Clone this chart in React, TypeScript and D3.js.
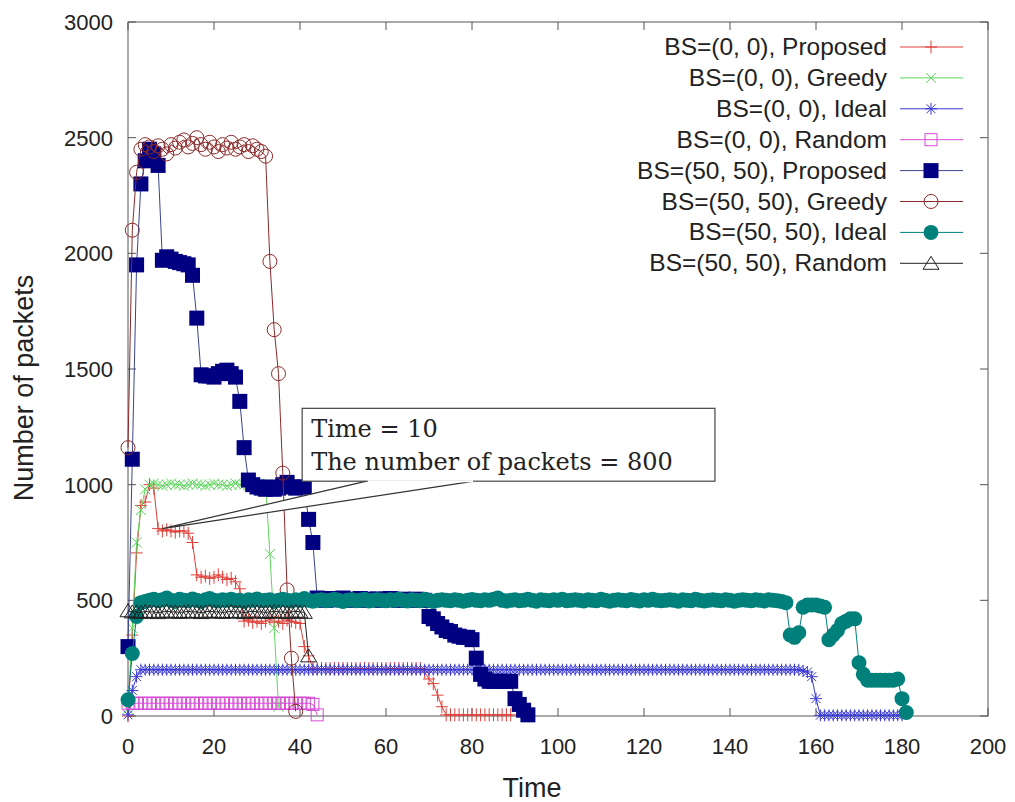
import React, { useRef, useEffect } from "react";
import * as d3 from "d3";

// axis ticks
const xTicks = [0, 20, 40, 60, 80, 100, 120, 140, 160, 180, 200];
const yTicks = [0, 500, 1000, 1500, 2000, 2500, 3000];

const seriesNames = [
  "BS=(0, 0), Proposed",
  "BS=(0, 0), Greedy",
  "BS=(0, 0), Ideal",
  "BS=(0, 0), Random",
  "BS=(50, 50), Proposed",
  "BS=(50, 50), Greedy",
  "BS=(50, 50), Ideal",
  "BS=(50, 50), Random",
];

// values per time step, starting at Time = 0
const proposed00 = [
  0, 350, 705, 910, 925, 1000, 985, 810, 800, 805, 800, 795, 800, 800, 790, 750,
  610, 600, 605, 595, 600, 610, 600, 590, 595, 580, 550,
  410, 415, 405, 410, 400, 410, 420, 405, 410, 400, 415, 410, 405, 400, 300, 260,
  205, 205, 205, 205, 205, 205, 205, 205, 205, 205, 205, 205, 205,
  205, 205, 205, 205, 205, 205, 205, 205, 205, 205, 205, 205, 205,
  190, 160, 140, 90, 40,
  5, 5, 5, 5, 5, 5, 5, 5, 5, 5, 5, 5, 5, 5, 5, 5,
];

const greedy00 = [
  30, 380, 750, 890, 980,
  1000, 1005, 1000, 995, 1000, 1005, 1000, 1000, 995, 1000, 1005, 1000, 1000, 995,
  1000, 1005, 1000, 1000, 995, 1000, 1005, 1000, 1000, 995, 1000, 1005, 1000, 1000,
  700, 380, 40,
];

const ideal00 = [
  5, 110, 170, 200,
  200, 200, 200, 200, 200, 200, 200, 200, 200, 200, 200, 200, 200, 200, 200, 200, 200, 200, 200, 200,
  200, 200, 200, 200, 200, 200, 200, 200, 200, 200, 200, 200, 200, 200, 200, 200, 200, 200, 200, 200,
  200, 200, 200, 200, 200, 200, 200, 200, 200, 200, 200, 200, 200, 200, 200, 200, 200, 200, 200, 200,
  200, 200, 200, 200, 200, 200, 200, 200, 200, 200, 200, 200, 200, 200, 200, 200, 200, 200, 200, 200,
  200, 200, 200, 200, 200, 200, 200, 200, 200, 200, 200, 200, 200, 200, 200, 200, 200, 200, 200, 200,
  200, 200, 200, 200, 200, 200, 200, 200, 200, 200, 200, 200, 200, 200, 200, 200, 200, 200, 200, 200,
  200, 200, 200, 200, 200, 200, 200, 200, 200, 200, 200, 200, 200, 200, 200, 200, 200, 200, 200, 200,
  200, 200, 200, 200, 200, 200, 200, 200, 200, 200, 200, 200, 200,
  195, 190, 170, 75,
  3, 3, 3, 3, 3, 3, 3, 3, 3, 3, 3, 3, 3, 3, 3, 3, 3, 3, 3, 3,
];

const random00 = [
  55, 55, 55, 55, 55, 55, 55, 55, 55, 55, 55, 55, 55, 55, 55, 55, 55, 55, 55, 55,
  55, 55, 55, 55, 55, 55, 55, 55, 55, 55, 55, 55, 55, 55, 55, 55, 55, 55, 55, 55,
  55, 55, 55, 50, 5,
];

const proposed50 = [
  300, 1110, 1950, 2300, 2400, 2450, 2430, 2380,
  1970, 1985, 1975, 1965, 1960, 1955, 1950, 1905, 1720,
  1475, 1470, 1470, 1465, 1480, 1490, 1495, 1480, 1465, 1360, 1160,
  1020, 1000, 990, 985, 980, 990, 980, 985, 1000, 1010, 990, 985, 990, 990, 850, 750,
  510, 505, 500, 508, 502, 505, 510, 500, 505, 503, 508, 500, 505, 502, 506, 500,
  505, 508, 502, 500, 505, 503, 500, 505, 502, 500,
  430, 420, 400, 385, 370, 365, 350, 345, 340, 340, 330, 250, 180, 160,
  150, 150, 150, 150, 150, 150, 75, 50, 25, 5,
];

const greedy50 = [
  1160, 2100, 2350,
  2450, 2470, 2460, 2440, 2465, 2450, 2430, 2470, 2455, 2480, 2490, 2460, 2475, 2500, 2470,
  2450, 2480, 2460, 2440, 2470, 2455, 2480, 2450, 2460, 2470, 2440, 2465, 2450, 2440,
  2420, 1965, 1670, 1480, 1050, 545, 250, 20,
];

const ideal50 = [
  70, 270, 430, 490,
  495, 500, 505, 498, 502, 510, 500, 495, 505, 500, 498, 506, 500, 495, 502, 508, 500, 497, 503, 500,
  505, 498, 500, 495, 502, 500, 506, 498, 500, 503, 495, 500, 505, 500, 497, 502, 500, 508, 500, 496,
  500, 503, 498, 500, 505, 500, 495, 500, 502, 498, 500, 505, 497, 500, 503, 500, 498, 502, 500, 506,
  500, 497, 502, 500, 498, 505, 500, 495, 500, 503, 500, 498, 502, 500, 496, 500, 504, 500, 498, 502,
  500, 505, 510, 500, 497, 500, 503, 498, 500, 505, 500, 496, 502, 500, 498, 503, 500, 505, 498, 500,
  502, 500, 497, 503, 500, 498, 505, 500, 496, 500, 502, 500, 498, 504, 500, 497, 502, 500, 505, 500,
  498, 500, 503, 500, 496, 502, 500, 498, 505, 500, 497, 500, 503, 500, 498, 502, 500, 496, 500, 503,
  500, 498, 502, 500, 497, 503, 500, 498, 495,
  490, 350, 340, 360, 470, 480, 480, 480, 475, 470, 330, 350, 370, 400, 410, 420, 420,
  230, 180, 155, 155, 155, 155, 155, 155, 155, 160, 75, 15,
];

const random50 = [
  455, 450, 450, 448, 452, 450, 450,
  447, 450, 453, 450, 450, 448, 450,
  452, 450, 450, 447, 450, 453, 450,
  450, 448, 450, 452, 450, 450, 447,
  450, 453, 450, 450, 448, 450, 452,
  450, 450, 447, 450, 453, 450, 448,
  260,
];

const seriesValues = [proposed00, greedy00, ideal00, random00, proposed50, greedy50, ideal50, random50];

const seriesStyles = [
  { color: "#e0403a", line: "#e0403a", marker: "plus" },
  { color: "#5cd85c", line: "#5cd85c", marker: "cross" },
  { color: "#3b3bd6", line: "#3b3bd6", marker: "star" },
  { color: "#d84ad8", line: "#d84ad8", marker: "square" },
  { color: "#000080", line: "#3a448e", marker: "squareFilled" },
  { color: "#8c2a2a", line: "#8c2a2a", marker: "circle" },
  { color: "#00807a", line: "#00807a", marker: "circleFilled" },
  { color: "#222222", line: "#222222", marker: "triangle" },
];

// callout annotation (data units)
const calloutText = ["Time = 10", "The number of packets = 800"];
const calloutTip = { t: 8, v: 810 };
const calloutBox = { t0: 40.5, t1: 136.5, v0: 1015, v1: 1330 };
const calloutBase = [55.5, 80.5];

const W = 1015;
const H = 802;
const font = "'Liberation Sans', Arial, sans-serif";

function drawMarker(g: any, kind: string, cx: number, cy: number, color: string) {
  const t = `translate(${cx},${cy})`;
  if (kind === "plus") {
    g.append("path").attr("d", "M-6,0H6M0,-6.5V6.5").attr("transform", t)
      .attr("stroke", color).attr("fill", "none");
  } else if (kind === "cross") {
    g.append("path").attr("d", "M-5,-5L5,5M-5,5L5,-5").attr("transform", t)
      .attr("stroke", color).attr("fill", "none");
  } else if (kind === "star") {
    g.append("path").attr("d", "M-6,0H6M0,-6V6M-4.5,-4.5L4.5,4.5M-4.5,4.5L4.5,-4.5").attr("transform", t)
      .attr("stroke", color).attr("fill", "none");
  } else if (kind === "square") {
    g.append("rect").attr("x", cx - 6).attr("y", cy - 6).attr("width", 12).attr("height", 12)
      .attr("stroke", color).attr("fill", "none");
  } else if (kind === "squareFilled") {
    g.append("rect").attr("x", cx - 7.5).attr("y", cy - 7.5).attr("width", 15).attr("height", 15)
      .attr("fill", color);
  } else if (kind === "circle") {
    g.append("circle").attr("cx", cx).attr("cy", cy).attr("r", 7)
      .attr("stroke", color).attr("fill", "none");
  } else if (kind === "circleFilled") {
    g.append("circle").attr("cx", cx).attr("cy", cy).attr("r", 7.5).attr("fill", color);
  } else if (kind === "triangle") {
    g.append("path").attr("d", "M0,-7L8,6H-8Z").attr("transform", t)
      .attr("stroke", color).attr("fill", "none");
  }
}

const PacketsChart = () => {
  const ref = useRef<SVGSVGElement>(null);

  useEffect(() => {
    const svg = d3.select(ref.current);
    svg.selectAll("*").remove();

    const x = d3.scaleLinear().domain([0, 200]).range([128, 988]);
    const y = d3.scaleLinear().domain([0, 3000]).range([716, 22]);

    svg.append("rect").attr("width", W).attr("height", H).attr("fill", "#fff");

    // frame + ticks
    const axisColor = "#555";
    svg.append("rect")
      .attr("x", x(0)).attr("y", y(3000))
      .attr("width", x(200) - x(0)).attr("height", y(0) - y(3000))
      .attr("fill", "none").attr("stroke", axisColor);

    const ticks = svg.append("g").attr("stroke", axisColor);
    xTicks.forEach((t) => {
      ticks.append("line").attr("x1", x(t)).attr("x2", x(t)).attr("y1", y(0)).attr("y2", y(0) - 8);
      ticks.append("line").attr("x1", x(t)).attr("x2", x(t)).attr("y1", y(3000)).attr("y2", y(3000) + 8);
    });
    yTicks.forEach((v) => {
      ticks.append("line").attr("x1", x(0)).attr("x2", x(0) + 8).attr("y1", y(v)).attr("y2", y(v));
      ticks.append("line").attr("x1", x(200)).attr("x2", x(200) - 8).attr("y1", y(v)).attr("y2", y(v));
    });

    const labels = svg.append("g").style("font-family", font).attr("fill", "#222");
    xTicks.forEach((t) => {
      labels.append("text").attr("x", x(t)).attr("y", y(0) + 38)
        .attr("text-anchor", "middle").style("font-size", "22px").text(t);
    });
    yTicks.forEach((v) => {
      labels.append("text").attr("x", x(0) - 15).attr("y", y(v) + 8)
        .attr("text-anchor", "end").style("font-size", "22px").text(v);
    });
    labels.append("text").attr("x", 532).attr("y", 797)
      .attr("text-anchor", "middle").style("font-size", "27px").text("Time");
    labels.append("text").attr("transform", "translate(33,388) rotate(-90)")
      .attr("text-anchor", "middle").style("font-size", "27px").text("Number of packets");

    // series, drawn in legend order
    const line = d3.line<number>().x((_, i) => x(i)).y((d) => y(d));
    seriesValues.forEach((vals, k) => {
      const st = seriesStyles[k];
      const g = svg.append("g").attr("stroke-width", 1);
      g.append("path").datum(vals).attr("d", line)
        .attr("fill", "none").attr("stroke", st.line).attr("stroke-width", 1);
      vals.forEach((v, i) => drawMarker(g, st.marker, x(i), y(v), st.color));
    });

    // legend
    const legend = svg.append("g").style("font-family", font);
    seriesNames.forEach((name, k) => {
      const st = seriesStyles[k];
      const ly = 47 + k * 30.9;
      legend.append("text").attr("x", 887).attr("y", ly + 8).attr("text-anchor", "end")
        .style("font-size", "24.5px").attr("fill", "#222").text(name);
      legend.append("line").attr("x1", 900).attr("x2", 963).attr("y1", ly).attr("y2", ly)
        .attr("stroke", st.line);
      drawMarker(legend, st.marker, 931, ly, st.color);
    });

    // callout
    const c = svg.append("g");
    c.append("path")
      .attr("d", `M${x(calloutBase[0])},${y(calloutBox.v0)}L${x(calloutTip.t)},${y(calloutTip.v)}L${x(calloutBase[1])},${y(calloutBox.v0)}Z`)
      .attr("fill", "#fff").attr("stroke", "#333").attr("stroke-width", 1.2);
    c.append("rect")
      .attr("x", x(calloutBox.t0)).attr("y", y(calloutBox.v1))
      .attr("width", x(calloutBox.t1) - x(calloutBox.t0))
      .attr("height", y(calloutBox.v0) - y(calloutBox.v1))
      .attr("fill", "#fff").attr("stroke", "#444").attr("stroke-width", 1.2);
    c.append("path")
      .attr("d", `M${x(calloutBase[0]) + 1},${y(calloutBox.v0)}H${x(calloutBase[1]) - 1}`)
      .attr("stroke", "#fff").attr("stroke-width", 2);
    calloutText.forEach((s, i) => {
      c.append("text").attr("x", x(calloutBox.t0) + 9).attr("y", y(calloutBox.v1) + 29 + i * 33)
        .style("font-family", "'DejaVu Serif', 'Liberation Serif', serif").style("font-size", "24px")
        .attr("fill", "#222").text(s);
    });
  }, []);

  return (
    <svg ref={ref} width={W} height={H} viewBox={`0 0 ${W} ${H}`}
      style={{ position: "absolute", left: 0, top: 0 }} />
  );
};

export default function App() {
  return <PacketsChart />;
}
